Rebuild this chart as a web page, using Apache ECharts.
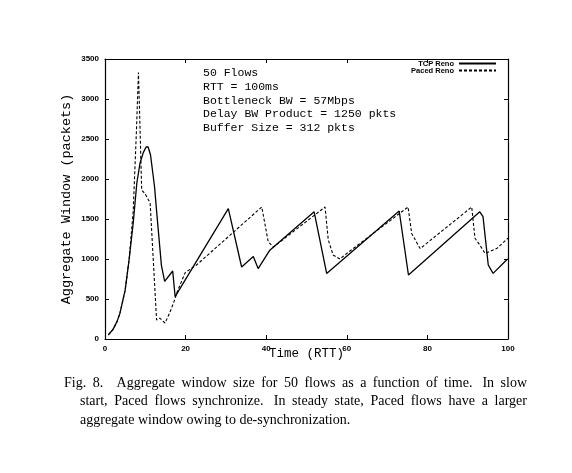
<!DOCTYPE html>
<html>
<head>
<meta charset="utf-8">
<script src="https://cdn.jsdelivr.net/npm/echarts@6/dist/echarts.min.js"></script>
<style>html,body{margin:0;padding:0;background:#fff;}#c{width:572px;height:473px;}</style>
</head>
<body>
<div id="c"></div>
<script>
const tcpTime = [0.8, 2, 3, 3.7, 5, 6, 7, 7.9, 8.7, 9.5, 10.2, 10.7, 11.3, 12.3, 12.8, 14, 14.8, 16.8, 17.4, 30.6, 33.9, 36.8, 38, 40.9, 51.9, 55, 73, 75.3, 93, 93.8, 95.1, 96.3, 99.7, 100];
const tcpWin  = [50, 120, 220, 320, 610, 1000, 1450, 1950, 2200, 2330, 2400, 2400, 2300, 1900, 1600, 920, 720, 850, 530, 1630, 900, 1030, 880, 1110, 1590, 820, 1600, 800, 1590, 1530, 925, 820, 990, 1000];
const pacedTime = [0.8, 2, 3, 3.7, 5, 6, 7, 7.8, 8.3, 8.6, 9.1, 9.9, 11.2, 12.8, 13.6, 14.9, 16, 17, 18, 19.9, 22.7, 38.9, 40.5, 41.8, 54.6, 55.4, 56.6, 58.3, 60, 75.2, 76.1, 78.2, 91, 91.8, 93, 94.3, 97.2, 100];
const pacedWin  = [50, 120, 220, 320, 610, 1000, 1600, 2600, 3330, 2800, 1860, 1820, 1700, 237, 260, 200, 320, 450, 600, 830, 925, 1650, 1215, 1150, 1650, 1240, 1050, 1000, 1070, 1650, 1320, 1130, 1650, 1260, 1175, 1070, 1130, 1260];
const seriesNames = ['TCP Reno', 'Paced Reno'];
const xTicks = [0, 20, 40, 60, 80, 100];
const yTicks = [0, 500, 1000, 1500, 2000, 2500, 3000, 3500];
const annotation = ['50 Flows', 'RTT = 100ms', 'Bottleneck BW = 57Mbps', 'Delay BW Product = 1250 pkts', 'Buffer Size = 312 pkts'];
const captionLines = [
  'Fig. 8.   Aggregate window size for 50 flows as a function of time.  In slow',
  'start, Paced flows synchronize.  In steady state, Paced flows have a larger',
  'aggregate window owing to de-synchronization.'
];
const xTitle = 'Time (RTT)';
const yTitle = 'Aggregate Window (packets)';

const zip = (a, b) => a.map((v, i) => [v, b[i]]);
const chart = echarts.init(document.getElementById('c'), null, {renderer: 'canvas'});
const tickFont = {color: '#000', fontFamily: 'Liberation Sans', fontWeight: 'bold', fontSize: 8};
const monoFont = 'Liberation Mono';
const plain = v => String(v);

const xBase = {
  type: 'value', min: xTicks[0], max: xTicks[xTicks.length - 1], interval: 20,
  axisLine: {show: true, onZero: false, lineStyle: {color: '#000', width: 1.2}},
  axisTick: {show: true, inside: true, length: 4, lineStyle: {color: '#000'}},
  splitLine: {show: false}
};
const yBase = {
  type: 'value', min: yTicks[0], max: yTicks[yTicks.length - 1], interval: 500,
  axisLine: {show: true, onZero: false, lineStyle: {color: '#000', width: 1.2}},
  axisTick: {show: true, inside: true, length: 4, lineStyle: {color: '#000'}},
  splitLine: {show: false}
};

// justified caption built from words
const capFont = '14px "Liberation Serif"';
const ctx = document.createElement('canvas').getContext('2d');
ctx.font = capFont;
const captionGraphics = [];
captionLines.forEach((line, i) => {
  const x0 = i === 0 ? 64 : 80;
  const right = 527;
  const y = 376 + i * 18.5;
  const parts = line.split(/( +)/);
  const justify = i < captionLines.length - 1;
  let natural = 0, gaps = 0;
  parts.forEach(p => { natural += ctx.measureText(p).width; if (/^ +$/.test(p)) gaps++; });
  const extra = justify && gaps ? (right - x0 - natural) / gaps : 0;
  let x = x0;
  parts.forEach(p => {
    const w = ctx.measureText(p).width;
    if (/^ +$/.test(p)) { x += w + extra; return; }
    if (p.length) captionGraphics.push({type: 'text', left: x, top: y, style: {text: p, fill: '#000', font: capFont}});
    x += w;
  });
});

const legendBase = {
  orient: 'vertical', align: 'right', right: 75, padding: 0, itemWidth: 37, itemHeight: 7, itemGap: 0,
  itemStyle: {opacity: 0},
  textStyle: {color: '#000', fontFamily: 'Liberation Sans', fontWeight: 'bold', fontSize: 7.5}
};

const option = {
  backgroundColor: '#fff',
  animation: false,
  grid: {left: 105, right: 64, top: 59, bottom: 134},
  xAxis: [
    Object.assign({}, xBase, {position: 'bottom', axisLabel: Object.assign({margin: 6, formatter: plain}, tickFont),
      name: xTitle, nameLocation: 'middle', nameGap: 8, nameMoveOverlap: false,
      nameTextStyle: {fontFamily: monoFont, fontSize: 12.5, color: '#000'}}),
    Object.assign({}, xBase, {position: 'top', axisLabel: {show: false}})
  ],
  yAxis: [
    Object.assign({}, yBase, {position: 'left', axisLabel: Object.assign({margin: 6, formatter: plain}, tickFont),
      name: yTitle, nameLocation: 'middle', nameGap: 32, nameMoveOverlap: false,
      nameTextStyle: {fontFamily: monoFont, fontSize: 13.5, color: '#000'}}),
    Object.assign({}, yBase, {position: 'right', axisLabel: {show: false}})
  ],
  legend: [
    Object.assign({data: [seriesNames[0]], top: 59.5}, legendBase),
    Object.assign({data: [seriesNames[1]], top: 66.5}, legendBase)
  ],
  series: [
    {name: seriesNames[0], type: 'line', data: zip(tcpTime, tcpWin), symbol: 'none',
     lineStyle: {color: '#000', width: 1.3}, itemStyle: {color: '#000'}},
    {name: seriesNames[1], type: 'line', data: zip(pacedTime, pacedWin), symbol: 'none',
     lineStyle: {color: '#000', width: 1.1, type: [3, 2]}, itemStyle: {color: '#000'}}
  ],
  graphic: [
    ...annotation.map((t, i) => ({type: 'text', left: 203, top: 67 + i * 13.8,
      style: {text: t, fill: '#000', font: '11.5px "Liberation Mono"'}})),
    ...captionGraphics
  ]
};
chart.setOption(option);
</script>
</body>
</html>
